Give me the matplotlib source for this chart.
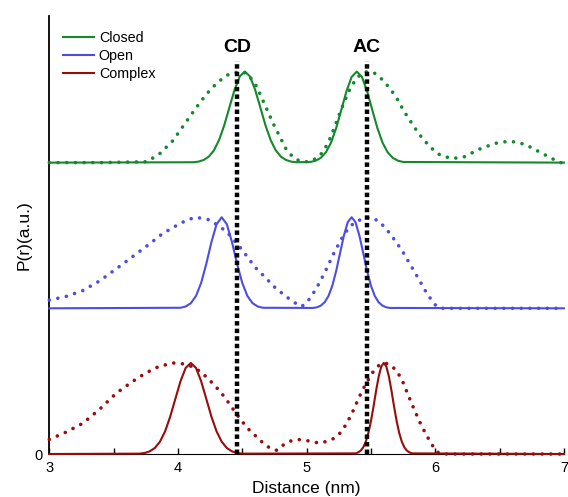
import matplotlib.pyplot as plt

plt.rcParams['font.family'] = ['Liberation Sans', 'DejaVu Sans']

# distance distributions P(r), each normalised to a peak of 1
closed_fit_x = [3.0, 4.12, 4.16, 4.20, 4.24, 4.28, 4.32, 4.36, 4.40, 4.44, 4.48, 4.52,
                4.56, 4.60, 4.64, 4.68, 4.72, 4.76, 4.80, 4.84, 4.88, 4.92,
                5.03, 5.07, 5.11, 5.15, 5.19, 5.23, 5.27, 5.31, 5.35, 5.39,
                5.43, 5.47, 5.51, 5.55, 5.59, 5.63, 5.67, 5.71, 5.75, 7.0]
closed_fit_y = [0, 0.004, 0.011, 0.029, 0.066, 0.135, 0.249, 0.411, 0.607, 0.80, 0.946, 1.0,
                0.946, 0.80, 0.607, 0.411, 0.249, 0.135, 0.066, 0.029, 0.011, 0.004,
                0.007, 0.021, 0.052, 0.113, 0.22, 0.38, 0.58, 0.785, 0.941, 1.0,
                0.941, 0.785, 0.58, 0.38, 0.22, 0.113, 0.052, 0.021, 0.007, 0]

closed_md_x = [3.0, 3.40, 3.76, 3.86, 3.96, 4.05, 4.14, 4.22, 4.30, 4.38, 4.45, 4.50,
               4.55, 4.61, 4.68, 4.74, 4.79, 4.84, 4.90, 4.96, 5.02, 5.08, 5.13,
               5.18, 5.22, 5.26, 5.30, 5.34, 5.39, 5.44, 5.48, 5.53, 5.59, 5.65,
               5.70, 5.75, 5.80, 5.87, 5.96, 6.04, 6.13, 6.22, 6.34, 6.46, 6.58,
               6.70, 6.81, 6.90, 6.97, 7.0]
closed_md_y = [0, 0, 0.01, 0.10, 0.24, 0.42, 0.60, 0.75, 0.87, 0.96, 0.99, 1.0,
               0.96, 0.84, 0.62, 0.43, 0.29, 0.15, 0.05, 0.01, 0.01, 0.05, 0.12,
               0.26, 0.40, 0.55, 0.69, 0.82, 0.93, 0.99, 1.0, 0.98, 0.91, 0.81,
               0.71, 0.58, 0.47, 0.32, 0.17, 0.08, 0.045, 0.06, 0.146, 0.21, 0.237,
               0.20, 0.117, 0.05, 0, 0]

open_fit_x = [3.0, 4.02, 4.06, 4.10, 4.14, 4.18, 4.22, 4.26, 4.30, 4.34, 4.38, 4.42,
              4.46, 4.50, 4.54, 4.58, 4.62, 4.66,
              5.05, 5.08, 5.11, 5.14, 5.17, 5.20, 5.23, 5.26, 5.29, 5.32, 5.35,
              5.38, 5.41, 5.44, 5.47, 5.50, 5.53, 5.56, 5.59, 5.62, 5.65, 7.0]
open_fit_y = [0, 0.006, 0.02, 0.056, 0.135, 0.278, 0.487, 0.726, 0.923, 1.0, 0.923, 0.726,
              0.487, 0.278, 0.135, 0.056, 0.02, 0.006,
              0.004, 0.011, 0.029, 0.066, 0.135, 0.249, 0.411, 0.607, 0.80, 0.946, 1.0,
              0.946, 0.80, 0.607, 0.411, 0.249, 0.135, 0.066, 0.029, 0.011, 0.004, 0]

open_md_x = [3.0, 3.13, 3.26, 3.39, 3.52, 3.65, 3.78, 3.88, 3.99, 4.07, 4.14, 4.25,
             4.38, 4.50, 4.60, 4.65, 4.76, 4.85, 4.92, 4.96, 5.00, 5.05, 5.10,
             5.15, 5.21, 5.27, 5.33, 5.39, 5.49, 5.56, 5.62, 5.69, 5.75, 5.81,
             5.88, 5.94, 6.01, 6.05, 7.0]
open_md_y = [0.09, 0.13, 0.195, 0.30, 0.433, 0.57, 0.708, 0.82, 0.91, 0.97, 1.0, 0.97,
             0.84, 0.64, 0.45, 0.38, 0.22, 0.12, 0.05, 0.02, 0.06, 0.16, 0.28,
             0.42, 0.60, 0.76, 0.89, 0.96, 1.0, 0.96, 0.87, 0.74, 0.615, 0.47,
             0.30, 0.15, 0.02, 0, 0]

complex_fit_x = [3.0, 3.70, 3.74, 3.78, 3.82, 3.86, 3.90, 3.94, 3.98, 4.02, 4.06, 4.10,
                 4.14, 4.18, 4.22, 4.26, 4.30, 4.34, 4.38, 4.42, 4.46, 4.50,
                 5.38, 5.40, 5.42, 5.44, 5.46, 5.48, 5.50, 5.52, 5.54, 5.56, 5.58,
                 5.60, 5.62, 5.64, 5.66, 5.68, 5.70, 5.72, 5.74, 5.76, 5.78, 5.80,
                 5.82, 7.0]
complex_fit_y = [0, 0.004, 0.011, 0.029, 0.066, 0.135, 0.249, 0.411, 0.607, 0.80, 0.946, 1.0,
                 0.946, 0.80, 0.607, 0.411, 0.249, 0.135, 0.066, 0.029, 0.011, 0.004,
                 0.007, 0.017, 0.037, 0.073, 0.135, 0.23, 0.36, 0.52, 0.693, 0.849, 0.96,
                 1.0, 0.96, 0.849, 0.693, 0.52, 0.36, 0.23, 0.135, 0.073, 0.037, 0.017,
                 0.007, 0]

complex_md_x = [3.0, 3.13, 3.26, 3.39, 3.52, 3.64, 3.75, 3.85, 3.96, 4.04, 4.11, 4.18,
                4.24, 4.30, 4.36, 4.42, 4.48, 4.55, 4.61, 4.67, 4.72, 4.77, 4.82,
                4.87, 4.92, 4.98, 5.04, 5.10, 5.16, 5.21, 5.26, 5.31, 5.36, 5.41,
                5.46, 5.51, 5.56, 5.61, 5.66, 5.70, 5.74, 5.78, 5.83, 5.88, 5.93,
                5.98, 6.02, 6.05, 7.0]
complex_md_y = [0.16, 0.24, 0.337, 0.49, 0.667, 0.79, 0.89, 0.96, 1.0, 0.99, 0.96, 0.90,
                0.82, 0.73, 0.63, 0.51, 0.39, 0.27, 0.19, 0.11, 0.06, 0.04, 0.10,
                0.14, 0.16, 0.155, 0.135, 0.12, 0.14, 0.17, 0.23, 0.33, 0.47, 0.63,
                0.77, 0.89, 0.97, 1.0, 0.97, 0.91, 0.82, 0.68, 0.51, 0.35, 0.21,
                0.09, 0.02, 0, 0]

markers = {'CD': 4.46, 'AC': 5.47}

# vertical stacking of the three states
offsets = {'Closed': 3.2, 'Open': 1.6, 'Complex': 0.0}
colors = {'Closed': '#13892c', 'Open': '#4d4de3', 'Complex': '#980c0c'}

curves = [
    ('Closed', closed_fit_x, closed_fit_y, closed_md_x, closed_md_y),
    ('Open', open_fit_x, open_fit_y, open_md_x, open_md_y),
    ('Complex', complex_fit_x, complex_fit_y, complex_md_x, complex_md_y),
]

fig = plt.figure(figsize=(5.68, 4.97), dpi=100)
ax = fig.add_axes([0.0868, 0.0865, 0.906, 0.8813])

dot_style = (0, (0.01, 2.4))
handles = []
for name, fx, fy, mx, my in curves:
    off = offsets[name]
    c = colors[name]
    ax.plot(mx, [v + off for v in my], color=c, lw=2.6, linestyle=dot_style,
            dash_capstyle='round', clip_on=False, zorder=3)
    h, = ax.plot(fx, [v + off for v in fy], color=c, lw=1.5, clip_on=False,
                 zorder=4, label=name)
    handles.append(h)

for label, xpos in markers.items():
    ax.plot([xpos, xpos], [0, 4.32], color='black', lw=3.2,
            linestyle=(0, (1, 0.7)), zorder=5)
    ax.text(xpos, 4.46, label, ha='center', va='center', fontsize=14,
            fontweight='bold')

ax.set(xlim=(3, 7), ylim=(0, 4.81))
ax.set_xticks([3, 3.5, 4, 4.5, 5, 5.5, 6, 6.5, 7])
ax.set_xticklabels(['3', '', '4', '', '5', '', '6', '', '7'])
ax.set_yticks([0])
ax.tick_params(axis='x', direction='in', length=4, width=1, labelsize=10.5, pad=5)
ax.tick_params(axis='y', length=0, labelsize=10.5, pad=5)

ax.spines['top'].set_visible(False)
ax.spines['right'].set_visible(False)
ax.spines['left'].set_linewidth(1.3)

ax.set_xlabel('Distance (nm)', fontsize=12.5, labelpad=4)
ax.set_ylabel('P(r)(a.u.)', fontsize=12.5, labelpad=1.5)

ax.legend(handles=handles, loc='upper left', bbox_to_anchor=(63 / 568, 1 - 31 / 497),
          bbox_transform=fig.transFigure, frameon=False, fontsize=10.3,
          handlelength=2.2, handletextpad=0.3, labelspacing=0.28,
          borderpad=0, borderaxespad=0)

fig.savefig('out.png', dpi=100)
